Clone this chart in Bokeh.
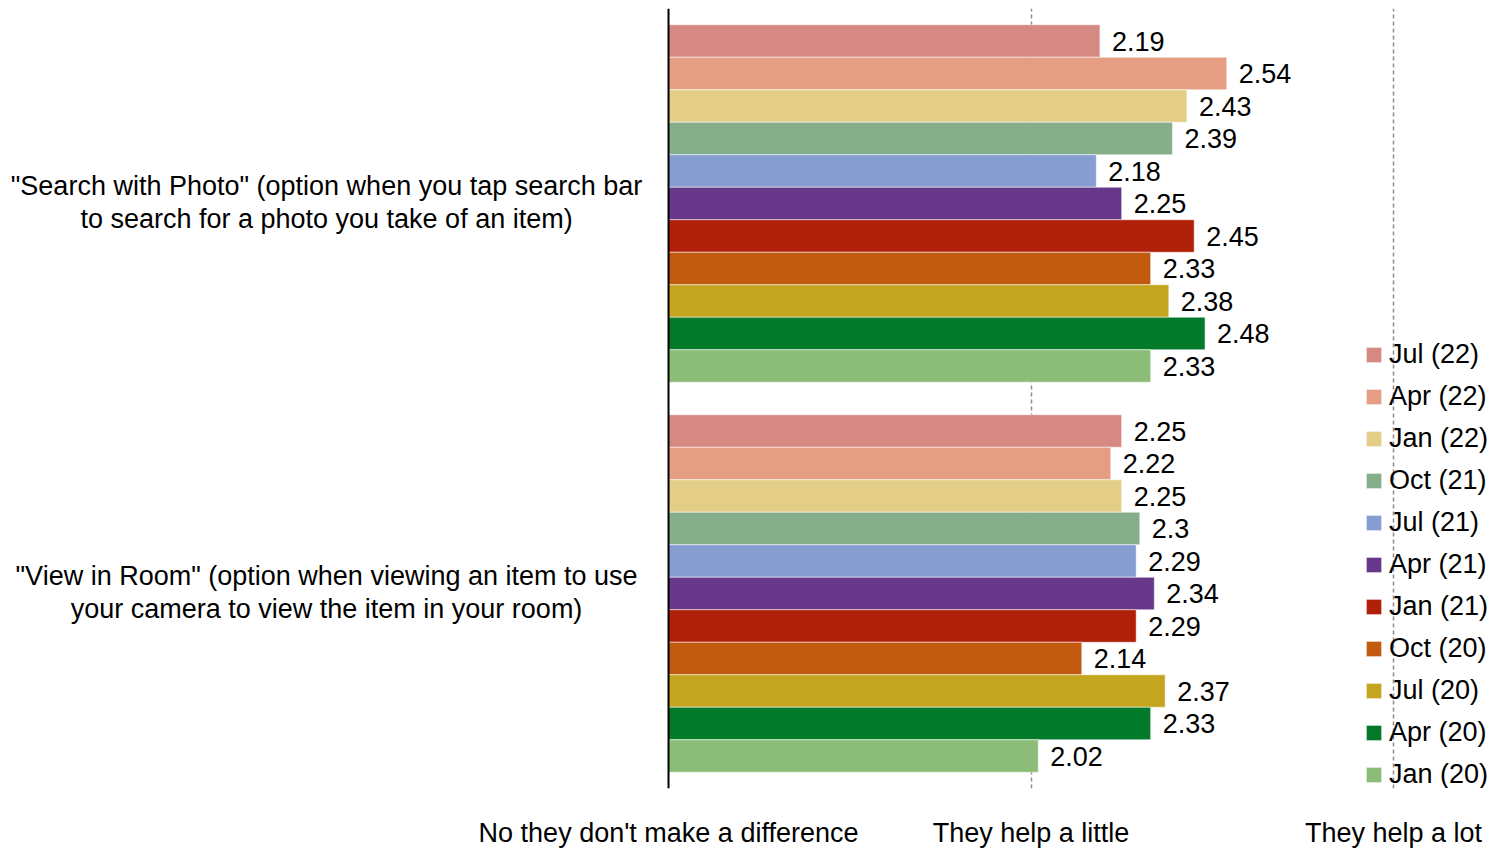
from bokeh.plotting import figure
from bokeh.models import (FactorRange, Range1d, FixedTicker, Legend, LegendItem,
                          ColumnDataSource, Span)
from bokeh.core.properties import value
from bokeh.embed import file_html
from bokeh.resources import INLINE

categories = [
    '"Search with Photo" (option when you tap search bar\nto search for a photo you take of an item)',
    '"View in Room" (option when viewing an item to use\nyour camera to view the item in your room)',
]
series = ["Jul (22)", "Apr (22)", "Jan (22)", "Oct (21)", "Jul (21)", "Apr (21)",
          "Jan (21)", "Oct (20)", "Jul (20)", "Apr (20)", "Jan (20)"]
colors = ["#D68882", "#E59E84", "#E4CE87", "#85AE8A", "#869DD2", "#67378A",
          "#B01F08", "#C25A10", "#C4A520", "#027A2A", "#8BBD78"]
values = {
    "Jul (22)": [2.19, 2.25],
    "Apr (22)": [2.54, 2.22],
    "Jan (22)": [2.43, 2.25],
    "Oct (21)": [2.39, 2.30],
    "Jul (21)": [2.18, 2.29],
    "Apr (21)": [2.25, 2.34],
    "Jan (21)": [2.45, 2.29],
    "Oct (20)": [2.33, 2.14],
    "Jul (20)": [2.38, 2.37],
    "Apr (20)": [2.48, 2.33],
    "Jan (20)": [2.33, 2.02],
}
scale_ticks = [1, 2, 3]
scale_labels = ["No they don't make a difference", "They help a little", "They help a lot"]

FONT = "Liberation Sans"
FS = "27px"

# factors bottom-to-top
factors = [(c, s) for c in reversed(categories) for s in reversed(series)]
y_range = FactorRange(*factors, group_padding=1.0, range_padding=0.5, range_padding_units="absolute")

# frame spans whole width; the scale starts (value 1) at 668 px from the left
p = figure(frame_width=1496, frame_height=780, y_range=y_range, x_range=Range1d(-0.8428, 3.284),
           output_backend="svg", toolbar_location=None,
           min_border_left=0, min_border_right=0, min_border_top=8, min_border_bottom=40)
p.outline_line_color = None

renderers = []
for s, col in zip(series, colors):
    src = ColumnDataSource(dict(
        y=[(c, s) for c in categories],
        v=values[s],
        lab=[f"{v:g}" for v in values[s]],
    ))
    r = p.hbar(y="y", right="v", left=scale_ticks[0], height=1.0, source=src, fill_color=col,
               line_color="white", line_width=1, line_alpha=0.5)
    p.text(x="v", y="y", text="lab", source=src, x_offset=12, text_align="left",
           text_baseline="middle", text_font=value(FONT), text_font_size=FS, text_color="black")
    renderers.append((s, r))

# category labels, centred multi-line, to the left of the value axis
cat_src = ColumnDataSource(dict(y=categories, text=categories))
p.text(x=scale_ticks[0], y="y", text="text", source=cat_src, x_offset=-342, y_offset=-1,
       text_align="center", text_baseline="middle", text_font=value(FONT),
       text_font_size=FS, text_color="black", text_line_height=1.08)

p.yaxis.visible = False
p.add_layout(Span(location=scale_ticks[0], dimension="height", line_color="black", line_width=2))

xax = p.xaxis[0]
xax.ticker = FixedTicker(ticks=scale_ticks)
xax.major_label_overrides = {t: l for t, l in zip(scale_ticks, scale_labels)}
xax.axis_line_color = None
xax.major_tick_line_color = None
xax.minor_tick_line_color = None
xax.major_label_standoff = 23
xax.major_label_text_font = FONT
xax.major_label_text_font_size = FS
xax.major_label_text_color = "black"

p.ygrid.grid_line_color = None
p.xgrid.ticker = FixedTicker(ticks=[2, 3])
p.xgrid.grid_line_color = "#8c8c8c"
p.xgrid.grid_line_dash = "4 3"
p.xgrid.grid_line_width = 1.5

legend = Legend(items=[LegendItem(label=s, renderers=[r]) for s, r in renderers],
                location=(1364, -2), orientation="vertical",
                label_text_font=FONT, label_text_font_size=FS, label_text_color="black",
                glyph_width=19, glyph_height=19, label_standoff=6, spacing=11,
                padding=0, margin=0, border_line_color=None, background_fill_alpha=0)
p.add_layout(legend, "center")

open("out.html", "w").write(file_html(p, INLINE))
